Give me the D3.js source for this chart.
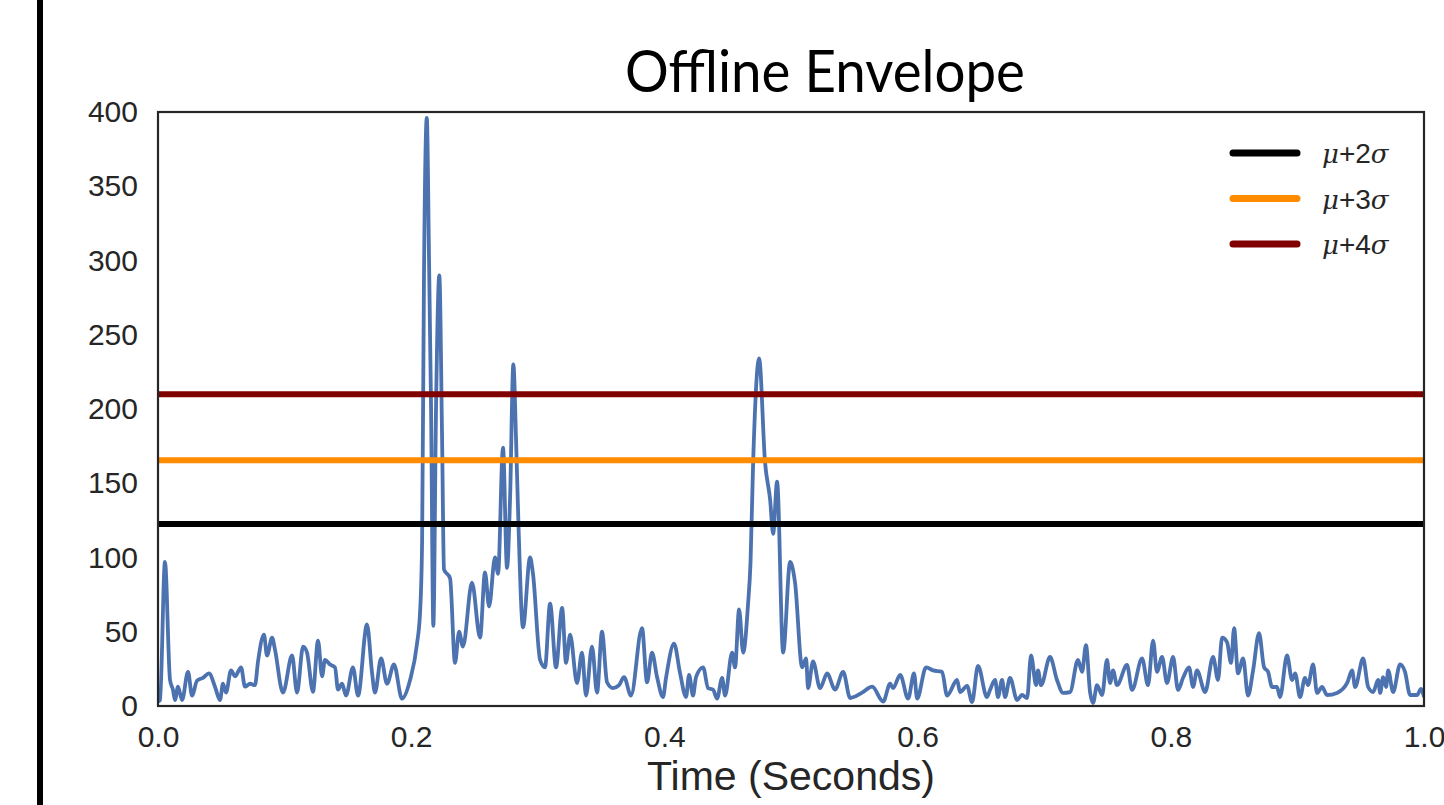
<!DOCTYPE html>
<html>
<head>
<meta charset="utf-8">
<script src="https://cdn.jsdelivr.net/npm/d3@7"></script>
<style>
  body { margin: 0; background: #fff; }
  svg { display: block; }
</style>
</head>
<body>
<svg id="chart" width="1444" height="805"></svg>
<script>
// envelope samples: [time in ms, amplitude]
var envelope = [
  [0, 3], [1.6, 4], [5.5, 97], [9.5, 17.5], [11.8, 11], [13.4, 4], [15.8, 13], [19.0, 4],
  [23.7, 23], [26.9, 7], [30.8, 17], [35.5, 19], [40.3, 22], [45.0, 13], [49.0, 4], [51.3, 15],
  [53.7, 9], [57.7, 24], [60.8, 20], [65.6, 26], [68.7, 13], [72.7, 15], [76.6, 14], [79.0, 30],
  [83.7, 48], [86.1, 34], [90.1, 46], [92.4, 38], [98.7, 9], [105.9, 34], [109.8, 9], [114.6, 40],
  [117.7, 36], [122.4, 9.5], [126.4, 44], [129.6, 20], [131.9, 31], [135.9, 28], [139.8, 26], [142.2, 11],
  [145.4, 15], [148.5, 7], [154.0, 26], [158.0, 7], [165.1, 55], [169.1, 22], [171.4, 9], [176.2, 32],
  [180.9, 15], [186.4, 28], [192.7, 5], [199.1, 17.5], [204.6, 42], [207.0, 63], [208.6, 110], [210.1, 290],
  [212.3, 396], [214.1, 300], [215.7, 200], [217.5, 54], [219.6, 200], [222.2, 290], [224.4, 180], [225.9, 92],
  [230.7, 86], [234.6, 29], [237.8, 50], [240.9, 40], [248.0, 83], [254.4, 46], [258.3, 90], [261.5, 67],
  [266.2, 100], [268.6, 89], [272.5, 174], [275.7, 93], [278.1, 140], [280.7, 230], [282.8, 180], [284.8, 120],
  [288.3, 53], [293.9, 100], [296.2, 89], [301.8, 31], [305.7, 26], [309.7, 69], [314.4, 26], [319.2, 66],
  [322.3, 29], [325.5, 48], [331.0, 15.5], [334.9, 36], [338.1, 7], [342.8, 40], [346.8, 9], [350.7, 50],
  [354.7, 16], [359.4, 12], [364.2, 14], [368.1, 19.5], [373.6, 7], [382.3, 52.5], [386.3, 16], [390.2, 36],
  [394.2, 19.5], [398.9, 6], [401.3, 19], [407.6, 42], [412.4, 22], [417.1, 6], [419.5, 21], [422.6, 7],
  [425.0, 19.5], [430.6, 26], [434.5, 12], [438.4, 11], [441.6, 5], [445.6, 19], [447.9, 7], [453.5, 36],
  [455.8, 26], [459.0, 65], [462.2, 36], [466.1, 69], [468.0, 96], [470.1, 164], [474.8, 234], [479.5, 164],
  [483.5, 139], [485.9, 116], [489.0, 151], [493.8, 36], [499.3, 97], [503.2, 83], [508.8, 26], [511.9, 32],
  [513.5, 12], [517.4, 30], [523.0, 12], [528.5, 22], [534.8, 11], [541.2, 23], [546.7, 5.4], [556.2, 9],
  [564.1, 13], [572.8, 3], [578.3, 15], [580.7, 12], [586.2, 21], [592.5, 5], [597.2, 22], [599.6, 5],
  [606.7, 26], [612.2, 24], [619.3, 23], [623.3, 7], [631.2, 17.5], [633.5, 9.4], [639.1, 13.5], [643.0, 2.7],
  [647.7, 27], [654.8, 6], [657.2, 10.8], [661.2, 17.5], [663.5, 6], [666.7, 17.5], [669.1, 6], [673.0, 19],
  [678.6, 4], [682.5, 7.4], [686.5, 5.4], [689.6, 34], [693.6, 14], [695.1, 24], [697.5, 14], [704.6, 33],
  [710.1, 17.5], [714.9, 8.8], [720.4, 9.4], [726.7, 31], [729.9, 23], [733.0, 41], [736.2, 9.4], [738.6, 2],
  [741.7, 14], [745.7, 7.4], [749.6, 31], [752.0, 15.5], [754.4, 24], [757.5, 14], [765.4, 27.6], [769.4, 10.8],
  [777.3, 32], [782.0, 14], [786.0, 44], [789.1, 23], [793.1, 33], [797.0, 15.5], [801.8, 33], [805.7, 10.8],
  [809.7, 19], [814.4, 26], [817.6, 12.8], [820.7, 24], [827.1, 9.4], [833.4, 33], [837.3, 17.5], [840.5, 46],
  [844.4, 43], [847.6, 29], [850.0, 52.5], [853.1, 22], [857.1, 32], [861.0, 7], [865.0, 24], [869.7, 49],
  [873.7, 26], [876.8, 23], [880.0, 12.8], [883.9, 12.8], [886.3, 6], [891.8, 34], [895.8, 17.5], [898.2, 22],
  [902.1, 6], [906.0, 19], [908.4, 14], [912.4, 28], [915.5, 8.8], [919.5, 12.8], [923.4, 7.4], [931.3, 8.8],
  [939.3, 15.5], [943.2, 24], [945.6, 12.8], [951.9, 32], [955.9, 12.8], [959.8, 9.4], [963.8, 17.5], [965.4, 8.8],
  [967.7, 19.5], [970.1, 12.8], [971.7, 24], [975.6, 9.4], [981.1, 28], [985.0, 23], [989.0, 7.4], [994.5, 7.4],
  [997.7, 11.5], [1000, 6]
];

var thresholdLabels = ["2", "3", "4"];
var thresholdValues = [122.5, 165.5, 210];
var thresholdColors = ["#000000", "#ff8c00", "#800000"];

var xTicks = [0, 0.2, 0.4, 0.6, 0.8, 1.0];
var yTicks = [0, 50, 100, 150, 200, 250, 300, 350, 400];

var svg = d3.select("#chart"),
    margin = {left: 158, right: 20, top: 112, bottom: 99},
    width = +svg.attr("width") - margin.left - margin.right,
    height = +svg.attr("height") - margin.top - margin.bottom;

// black bar on the left edge of the page
svg.append("rect")
    .attr("x", 37).attr("y", 0)
    .attr("width", 6).attr("height", 805)
    .attr("fill", "#000");

var g = svg.append("g")
    .attr("transform", "translate(" + margin.left + "," + margin.top + ")");

var x = d3.scaleLinear().domain([0, 1]).range([0, width]);
var y = d3.scaleLinear().domain([0, 400]).range([height, 0]);

g.append("defs").append("clipPath").attr("id", "plotclip")
    .append("rect").attr("width", width).attr("height", height);

var line = d3.line()
    .x(function (d) { return x(d[0] / 1000); })
    .y(function (d) { return y(d[1]); })
    .curve(d3.curveMonotoneX);

g.append("path")
    .datum(envelope)
    .attr("clip-path", "url(#plotclip)")
    .attr("fill", "none")
    .attr("stroke", "#4c72b0")
    .attr("stroke-width", 3.8)
    .attr("stroke-linejoin", "round")
    .attr("d", line);

// threshold lines
g.selectAll(".thresh")
    .data(thresholdValues)
    .enter().append("line")
    .attr("class", "thresh")
    .attr("x1", 0).attr("x2", width)
    .attr("y1", function (d) { return y(d); })
    .attr("y2", function (d) { return y(d); })
    .attr("stroke", function (d, i) { return thresholdColors[i]; })
    .attr("stroke-width", 6);

// frame
g.append("rect")
    .attr("width", width).attr("height", height)
    .attr("fill", "none")
    .attr("stroke", "#262626")
    .attr("stroke-width", 2.2);

var yAxis = g.append("g")
    .call(d3.axisLeft(y).tickValues(yTicks).tickSize(0).tickPadding(20).tickFormat(d3.format("d")));
var xAxis = g.append("g")
    .attr("transform", "translate(0," + height + ")")
    .call(d3.axisBottom(x).tickValues(xTicks).tickSize(0).tickPadding(20).tickFormat(d3.format(".1f")));

[xAxis, yAxis].forEach(function (a) {
    a.select(".domain").remove();
    a.selectAll("text")
        .attr("fill", "#262626")
        .style("font-family", "'Liberation Sans', Arial, sans-serif")
        .style("font-size", "30px");
});

svg.append("text")
    .attr("x", margin.left + width / 2)
    .attr("y", 790)
    .attr("text-anchor", "middle")
    .attr("fill", "#262626")
    .style("font-family", "'Liberation Sans', Arial, sans-serif")
    .style("font-size", "41px")
    .text("Time (Seconds)");

svg.append("text")
    .attr("x", 825)
    .attr("y", 92)
    .attr("text-anchor", "middle")
    .attr("fill", "#000")
    .attr("textLength", 400)
    .attr("lengthAdjust", "spacingAndGlyphs")
    .style("font-family", "Lato, 'Open Sans', sans-serif")
    .style("font-weight", 400)
    .style("font-size", "58px")
    .text("Offline Envelope");

// legend
var legend = svg.append("g").attr("transform", "translate(1230,153)");
var item = legend.selectAll(".item")
    .data(thresholdLabels)
    .enter().append("g")
    .attr("class", "item")
    .attr("transform", function (d, i) { return "translate(0," + (i * 45.5) + ")"; });

item.append("line")
    .attr("x1", 3).attr("x2", 67)
    .attr("stroke", function (d, i) { return thresholdColors[i]; })
    .attr("stroke-width", 7)
    .attr("stroke-linecap", "round");

var lt = item.append("text")
    .attr("x", 92).attr("y", 10)
    .attr("fill", "#262626")
    .style("font-family", "'DejaVu Serif', serif")
    .style("font-size", "26px");
lt.append("tspan").style("font-style", "italic").text("\u03bc");
lt.append("tspan").style("font-family", "'Liberation Sans', Arial, sans-serif").style("font-size", "28px")
    .text(function (d) { return "+" + d; });
lt.append("tspan").style("font-style", "italic").text("\u03c3");
</script>
</body>
</html>
